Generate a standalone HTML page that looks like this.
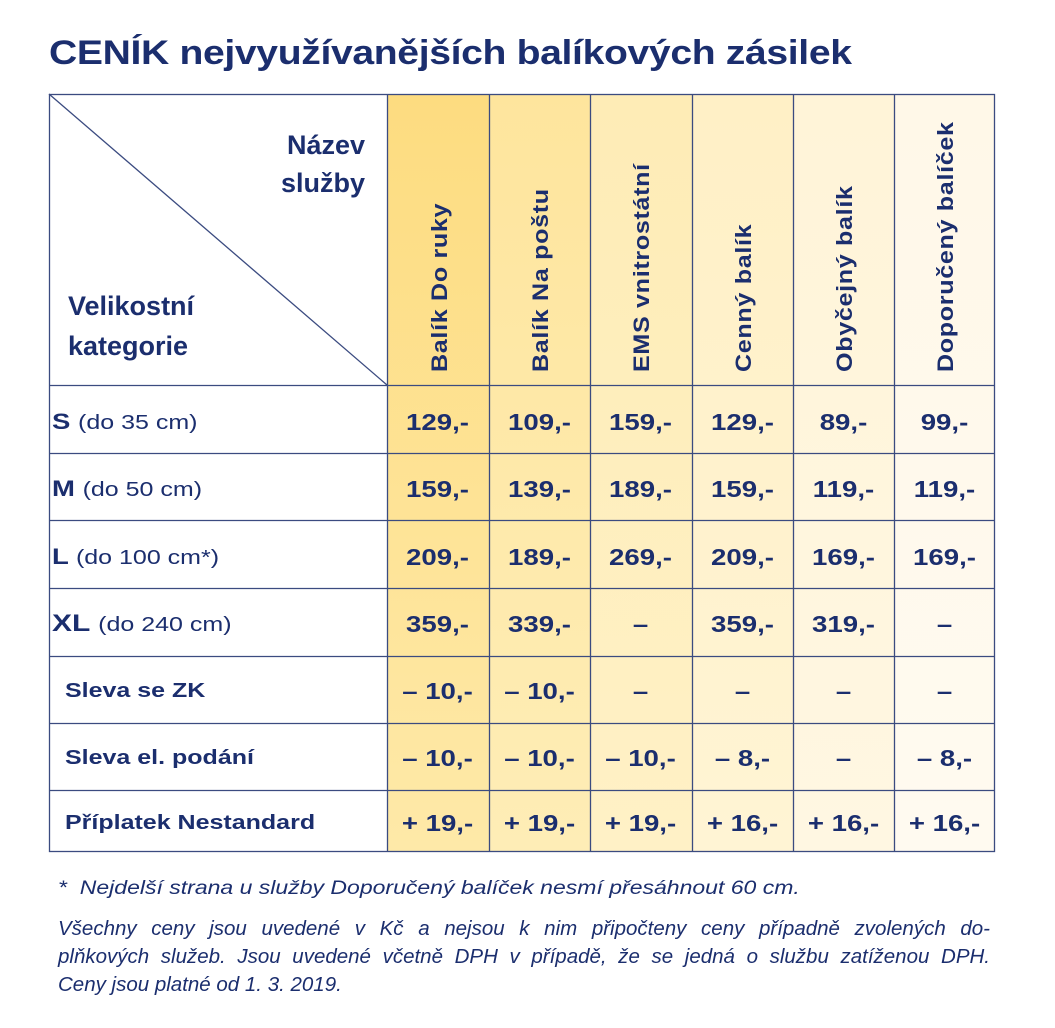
<!DOCTYPE html>
<html><head><meta charset="utf-8"><style>
body{margin:0;width:1055px;height:1028px;background:#fff;font-family:"Liberation Sans",sans-serif;color:#1b2e6e;position:relative;overflow:hidden}
.a{position:absolute}
h1{position:absolute;left:49px;top:34px;margin:0;font-size:34px;font-weight:bold;letter-spacing:-0.3px;transform:scaleX(1.15);transform-origin:left top;white-space:nowrap}
.col{position:absolute;top:94px;height:758px}
.rt{position:absolute;font-size:22px;font-weight:bold;letter-spacing:0.6px;white-space:nowrap;transform:rotate(-90deg) scaleX(1.14);transform-origin:left top}
.c{position:absolute;width:101px;text-align:center;font-size:23px;font-weight:bold;line-height:22px;transform:scaleX(1.2)}
.lab{position:absolute;left:52px;font-size:22px;font-weight:bold;line-height:22px;transform:scaleX(1.25);transform-origin:left top;white-space:nowrap}
.lab span{font-weight:normal;font-size:20px}
.ft{position:absolute;left:58px;font-size:20.5px;font-style:italic;line-height:28px;white-space:nowrap}
.j{width:932px;text-align:justify;text-align-last:justify;white-space:normal}
</style></head><body>
<h1>CENÍK nejvyužívanějších balíkových zásilek</h1>
<div class="col" style="left:387px;width:102px;background:linear-gradient(#fddc80,#fee9a8)"></div>
<div class="col" style="left:489px;width:101px;background:linear-gradient(#fee59d,#feedb6)"></div>
<div class="col" style="left:590px;width:102px;background:linear-gradient(#feecb6,#fff1c6)"></div>
<div class="col" style="left:692px;width:101px;background:linear-gradient(#fff0c6,#fff4d4)"></div>
<div class="col" style="left:793px;width:101px;background:linear-gradient(#fff4d8,#fff7e2)"></div>
<div class="col" style="left:894px;width:101px;background:linear-gradient(#fff8e8,#fffaf0)"></div>
<svg class="a" style="left:0;top:0" width="1055" height="1028"><g stroke="#3b4b80" stroke-width="1.3" fill="none">
<rect x="49.5" y="94.5" width="945" height="757"/>
<line x1="49" y1="94" x2="387" y2="385"/>
<line x1="387.5" y1="94" x2="387.5" y2="852"/><line x1="489.5" y1="94" x2="489.5" y2="852"/><line x1="590.5" y1="94" x2="590.5" y2="852"/><line x1="692.5" y1="94" x2="692.5" y2="852"/><line x1="793.5" y1="94" x2="793.5" y2="852"/><line x1="894.5" y1="94" x2="894.5" y2="852"/>
<line x1="49" y1="385.5" x2="995" y2="385.5"/><line x1="49" y1="453.5" x2="995" y2="453.5"/><line x1="49" y1="520.5" x2="995" y2="520.5"/><line x1="49" y1="588.5" x2="995" y2="588.5"/><line x1="49" y1="656.5" x2="995" y2="656.5"/><line x1="49" y1="723.5" x2="995" y2="723.5"/><line x1="49" y1="790.5" x2="995" y2="790.5"/>
</g></svg>
<div class="a" style="left:215px;top:126px;width:150px;text-align:right;font-size:27px;font-weight:bold;line-height:38px">Název<br>služby</div>
<div class="a" style="left:68px;top:286px;font-size:27px;font-weight:bold;line-height:40px">Velikostní<br>kategorie</div>
<div class="rt" style="left:427px;top:372px">Balík Do ruky</div>
<div class="rt" style="left:528px;top:372px">Balík Na poštu</div>
<div class="rt" style="left:629px;top:372px">EMS vnitrostátní</div>
<div class="rt" style="left:731px;top:372px">Cenný balík</div>
<div class="rt" style="left:832px;top:372px">Obyčejný balík</div>
<div class="rt" style="left:933px;top:372px">Doporučený balíček</div>
<div class="lab" style="top:411px">S <span>(do 35 cm)</span></div>
<div class="lab" style="top:478px">M <span>(do 50 cm)</span></div>
<div class="lab" style="top:546px">L <span>(do 100 cm*)</span></div>
<div class="lab" style="top:613px;font-size:24px">XL <span>(do 240 cm)</span></div>
<div class="lab" style="top:680px;left:65px;font-size:20px">Sleva se ZK</div>
<div class="lab" style="top:747px;left:65px;font-size:20px">Sleva el. podání</div>
<div class="lab" style="top:812px;left:65px;font-size:20px">Příplatek Nestandard</div>
<div id="cells"></div>
<script>
var rows=[[411,"129,-","109,-","159,-","129,-","89,-","99,-"],[478,"159,-","139,-","189,-","159,-","119,-","119,-"],[546,"209,-","189,-","269,-","209,-","169,-","169,-"],[613,"359,-","339,-","–","359,-","319,-","–"],[680,"– 10,-","– 10,-","–","–","–","–"],[747,"– 10,-","– 10,-","– 10,-","– 8,-","–","– 8,-"],[812,"+ 19,-","+ 19,-","+ 19,-","+ 16,-","+ 16,-","+ 16,-"]];
var xs=[387,489,590,692,793,894],h="";
rows.forEach(function(r){for(var i=0;i<6;i++)h+='<div class="c" style="left:'+xs[i]+'px;top:'+r[0]+'px">'+r[i+1]+'</div>';});
document.getElementById("cells").innerHTML=h;
</script>
<div class="ft" style="top:874px;font-size:19.5px;transform:scaleX(1.18);transform-origin:left top">*&nbsp; Nejdelší strana u služby Doporučený balíček nesmí přesáhnout 60 cm.</div>
<div class="ft j" style="top:915px">Všechny ceny jsou uvedené v Kč a nejsou k nim připočteny ceny případně zvolených do-</div>
<div class="ft j" style="top:943px">plňkových služeb. Jsou uvedené včetně DPH v případě, že se jedná o službu zatíženou DPH.</div>
<div class="ft" style="top:971px">Ceny jsou platné od 1. 3. 2019.</div>
</body></html>
